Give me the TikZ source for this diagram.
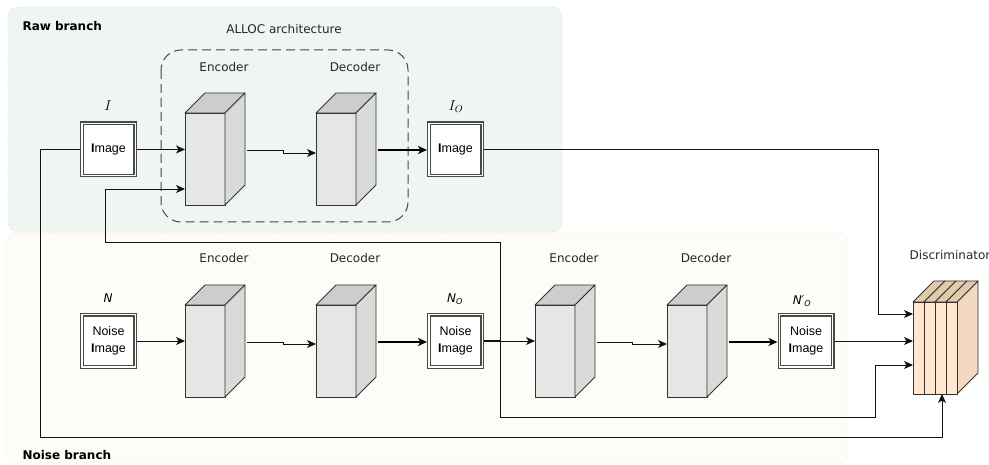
\documentclass[tikz,border=0pt]{standalone}
\usepackage{fontspec}
\setmainfont{DejaVu Sans}
\newfontfamily\arialf{Liberation Sans}
\usetikzlibrary{arrows.meta,calc}

\definecolor{rawfill}{HTML}{EFF5F3}
\definecolor{rawedge}{HTML}{D3DBD8}
\definecolor{noisefill}{HTML}{FDFCF6}
\definecolor{noiseedge}{HTML}{E6E3D3}
\definecolor{blkfront}{HTML}{E6E6E6}
\definecolor{blktop}{HTML}{CDCDCD}
\definecolor{blkside}{HTML}{DADADA}
\definecolor{dfront}{HTML}{FFE6CC}
\definecolor{dtop}{HTML}{E2CAAC}
\definecolor{dside}{HTML}{F2D8BE}
\definecolor{edgegrey}{HTML}{333333}
\definecolor{boxedge}{HTML}{4A4A4A}
\definecolor{wire}{HTML}{111111}

% a grey block drawn as a cuboid: name, left x of front face, top y of front face
\newcommand\blockcube[3]{%
  \node[frontface, anchor=north west] (#1) at (#2,#3) {};
  \draw[cubeedge, fill=blktop] (#1.north west) -- ++(20,-20) -- ++(40,0) -- (#1.north east) -- cycle;
  \draw[cubeedge, fill=blkside] (#1.north east) -- ++(20,-20) -- ++(0,92) -- (#1.south east) -- cycle;
  \coordinate (#1-out) at ($(#1.north east)+(22,37)$);
}
% one slice of the discriminator stack
\newcommand\discslice[3]{%
  \node[discface, anchor=north west] (#1) at (#2,#3) {};
  \draw[cubeedge, fill=dtop] (#1.north west) -- ++(21,-21) -- ++(11,0) -- (#1.north east) -- cycle;
}

\begin{document}
\begin{tikzpicture}[x=1pt,y=-1pt,
  every node/.style={font=\fontsize{12}{14}\selectfont},
  panelraw/.style={fill=rawfill, draw=rawedge, dotted, line width=0.8pt, rounded corners=10pt},
  panelnoise/.style={fill=noisefill, draw=noiseedge, dotted, line width=0.8pt, rounded corners=10pt},
  cubeedge/.style={draw=edgegrey, line width=0.9pt, line join=round},
  frontface/.style={cubeedge, fill=blkfront, minimum width=40pt, minimum height=92pt, inner sep=0pt, outer sep=0pt},
  discface/.style={cubeedge, fill=dfront, minimum width=11pt, minimum height=92pt, inner sep=0pt, outer sep=0pt},
  imgbox/.style={draw=boxedge, double=white, double distance=1.3pt, line width=1.2pt, fill=white,
    minimum width=53.3pt, minimum height=52.3pt, inner sep=0pt, outer sep=1.85pt,
    font=\arialf\fontsize{12.5}{16.5}\selectfont, align=center},
  tip/.style={-{Stealth[length=9pt,width=8pt,inset=2.5pt]}},
  wirestyle/.style={draw=wire, line width=0.9pt, tip},
  plainwire/.style={draw=wire, line width=0.9pt},
  heavywire/.style={draw=black, line width=1.9pt, tip},
  caption/.style={text=black!85},
  sym/.style={font=\fontsize{14.5}{16}\selectfont},
]
\path[use as bounding box] (0,0) rectangle (989,465);

% background panels
\path[panelnoise] (6,233) rectangle (848,463);
\path[panelraw] (8,7) rectangle (562,232);
\node[anchor=west] (rawlbl) at (19,26) {\textbf{Raw branch}};
\node[anchor=west] (noiselbl) at (19,455) {\textbf{Noise branch}};

% ALLOC frame
\node[caption] (alloclbl) at (284,29) {ALLOC architecture};
\draw[draw=black!72, line width=1pt, dash pattern=on 9pt off 5pt, rounded corners=20pt]
  (161,50) rectangle (408,222);

% block captions
\node[caption] (t1) at (224,67) {Encoder};
\node[caption] (t2) at (355,67) {Decoder};
\node[caption] (t3) at (224,258) {Encoder};
\node[caption] (t4) at (355,258) {Decoder};
\node[caption] (t5) at (574,258) {Encoder};
\node[caption] (t6) at (706,258) {Decoder};
\node[caption] (t7) at (950,255) {Discriminator};

% encoder / decoder blocks
\blockcube{renc}{185}{113}
\blockcube{rdec}{316}{113}
\blockcube{nenc}{185}{305}
\blockcube{ndec}{316}{305}
\blockcube{menc}{535}{305}
\blockcube{mdec}{667}{305}

% discriminator stack
\draw[cubeedge, fill=dside] (957,302) -- ++(21,-21) -- ++(0,92) -- (957,394) -- cycle;
\discslice{disc1}{913}{302}
\discslice{disc2}{924}{302}
\discslice{disc3}{935}{302}
\discslice{disc4}{946}{302}

% image boxes and their symbols
\node[imgbox] (imgI) at (108.5,149.5) {\textbf{I}mage};
\node[imgbox] (imgIO) at (455.5,149.5) {\textbf{I}mage};
\node[imgbox] (imgN) at (108.5,341) {Noise\\\textbf{I}mage};
\node[imgbox] (imgNO) at (455.5,341) {Noise\\\textbf{I}mage};
\node[imgbox] (imgNP) at (806,341) {Noise\\\textbf{I}mage};
\node[sym] (symI) at (108,106) {$I$};
\node[sym] (symIO) at (456,107) {$I_O$};
\node (symN) at (108,298) {\textit{N}};
\node (symNO) at (455,299) {\textit{N\textsubscript{O}}};
\node (symNP) at (802,301) {\textit{N′\textsubscript{O}}};

% raw branch wiring
\coordinate (rj) at (283,153);
\draw[wirestyle] (imgI.east) -- (renc.west |- imgI.east);
\draw[wirestyle] (renc-out) -| (rj) -- (rdec.west |- rj);
\draw[heavywire] (rdec-out) -- (imgIO.west |- rdec-out);

% noise branch wiring
\coordinate (nj) at (283,344);
\coordinate (mj) at (632,344);
\draw[wirestyle] (imgN.east) -- (nenc.west |- imgN.east);
\draw[wirestyle] (nenc-out) -| (nj) -- (ndec.west |- nj);
\draw[heavywire] (ndec-out) -- (imgNO.west |- ndec-out);
\draw[plainwire, line width=1.9pt] (imgNO.east) -- (500,341);
\draw[wirestyle] (imgNO.east) -- (menc.west |- imgNO.east);
\draw[wirestyle] (menc-out) -| (mj) -- (mdec.west |- mj);
\draw[heavywire] (mdec-out) -- (imgNP.west |- mdec-out);

% feedback of the noise output into the raw encoder
\coordinate (u1) at (500,242);
\coordinate (u2) at (105,189);
\draw[wirestyle] (imgNO.east) -| (u1) -| (u2) -- (renc.west |- u2);

% inputs of the discriminator
\coordinate (d1) at (500,417);
\coordinate (d2) at (875,365);
\coordinate (c1) at (878,314);
\coordinate (c2) at (40,437);
\coordinate (c3) at (942,394);
\draw[wirestyle] (imgIO.east) -| (c1) -- (disc1.west |- c1);
\draw[wirestyle] (imgNP.east) -- (disc1.west |- imgNP.east);
\draw[wirestyle] (imgNO.east) -| (d1) -| (d2) -- (disc1.west |- d2);
\draw[wirestyle] (imgI.west) -| (c2) -| (c3);
\end{tikzpicture}
\end{document}
